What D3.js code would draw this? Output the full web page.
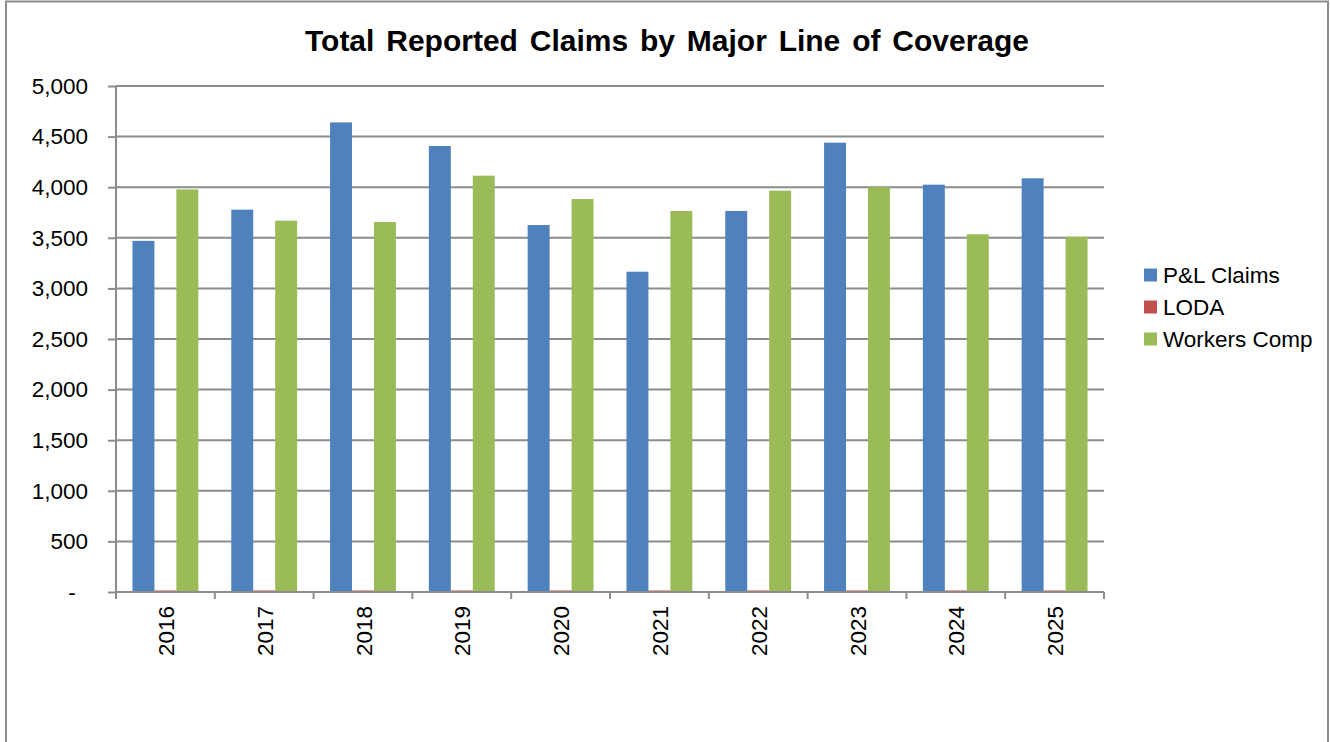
<!DOCTYPE html>
<html><head><meta charset="utf-8">
<script src="https://cdn.jsdelivr.net/npm/d3@7"></script>
<style>body{margin:0;background:#fff}svg{display:block}text{font-family:"Liberation Sans",Arial,sans-serif}</style>
</head><body><svg id="c" width="1330" height="742"></svg>
<script>
const categories = ["2016","2017","2018","2019","2020","2021","2022","2023","2024","2025"];
const seriesNames = ["P&L Claims","LODA","Workers Comp"];
const plClaims = [3470,3778,4640,4407,3626,3165,3765,4440,4025,4088];
const loda = [15,15,15,15,15,15,15,15,15,15];
const workersComp = [3978,3669,3656,4114,3883,3765,3966,4000,3535,3511];
const yTicks = [0,500,1000,1500,2000,2500,3000,3500,4000,4500,5000];
const colors = ["#4f81bd","#c0504d","#9bbb59"];
const title = "Total Reported Claims by Major Line of Coverage";

const series = [plClaims, loda, workersComp];
const svg = d3.select("#c");
const L = 116, R = 1104, T = 86, B = 592;
const FS = 22.5;

svg.append("rect").attr("x",6).attr("y",1.5).attr("width",1322).attr("height",760)
  .attr("fill","none").attr("stroke","#8c8c8c").attr("stroke-width",2);

svg.append("text").attr("x",667).attr("y",51).attr("text-anchor","middle")
  .attr("font-size",30).attr("font-weight","bold").attr("word-spacing",3.5).text(title);

const x = d3.scaleBand().domain(categories).range([L,R]);
const y = d3.scaleLinear().domain([0,5000]).range([B,T]);
const bw = x.bandwidth()/4.5;
const x1 = d3.scaleBand().domain(d3.range(3)).range([0.75*bw, 3.75*bw]);

// gridlines
svg.append("g").selectAll("line").data(yTicks.filter(d=>d>0)).join("line")
  .attr("x1",L).attr("x2",R).attr("y1",d=>y(d)).attr("y2",d=>y(d))
  .attr("stroke","#8c8c8c").attr("stroke-width",2);

// bars
series.forEach((vals,si)=>{
  svg.append("g").selectAll("rect").data(vals).join("rect")
    .attr("x",(d,i)=>x(categories[i])+x1(si))
    .attr("width",x1.bandwidth())
    .attr("y",d=>y(d)).attr("height",d=>B-y(d))
    .attr("fill",colors[si]);
});

// y axis
const yAxis = d3.axisLeft(y).tickValues(yTicks).tickSize(8).tickPadding(5)
  .tickFormat(d=>d===0?"-":d3.format(",")(d));
const gy = svg.append("g").attr("transform",`translate(${L},0)`).call(yAxis);
gy.select(".domain").attr("stroke","#8c8c8c").attr("stroke-width",2).attr("d",`M0,${T}V${B+6}`);
gy.selectAll(".tick line").attr("stroke","#8c8c8c").attr("stroke-width",2);
gy.selectAll("text").attr("font-size",FS).attr("fill","#000")
  .attr("font-family","Liberation Sans, Arial, sans-serif")
  .attr("x",d=>d===0?-44:-28)
  .attr("text-anchor",d=>d===0?"middle":"end");

// x axis
const gx = svg.append("g").attr("transform",`translate(0,${B})`);
gx.append("line").attr("x1",L).attr("x2",R).attr("stroke","#8c8c8c").attr("stroke-width",2);
const bounds = categories.map(c=>x(c)).concat([R]);
gx.selectAll("line.tk").data(bounds).join("line").attr("class","tk")
  .attr("x1",d=>d).attr("x2",d=>d).attr("y1",0).attr("y2",7)
  .attr("stroke","#8c8c8c").attr("stroke-width",2);
gx.selectAll("text").data(categories).join("text")
  .attr("transform",d=>`translate(${x(d)+x.bandwidth()/2+8.5},14) rotate(-90)`)
  .attr("text-anchor","end").attr("font-size",FS).attr("fill","#000").text(d=>d);

// legend
const lg = svg.append("g");
seriesNames.forEach((n,i)=>{
  const cy = 275 + i*32;
  lg.append("rect").attr("x",1144).attr("y",cy-6.5).attr("width",13).attr("height",13).attr("fill",colors[i]);
  lg.append("text").attr("x",1163).attr("y",cy+8).attr("font-size",FS).attr("fill","#000").text(n);
});
</script></body></html>
